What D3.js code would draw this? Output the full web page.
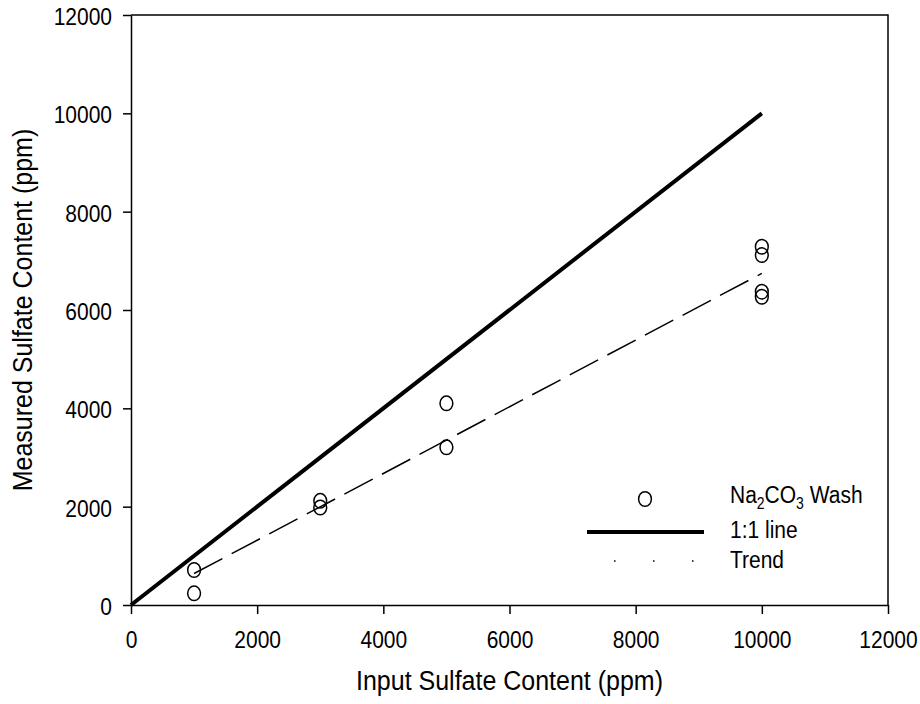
<!DOCTYPE html>
<html>
<head>
<meta charset="utf-8">
<script src="https://cdn.jsdelivr.net/npm/d3@7"></script>
<style>
  html, body { margin: 0; padding: 0; background: #fff; }
  text { font-family: Arial, "Liberation Sans", Helvetica, sans-serif; fill: #000; }
</style>
</head>
<body>
<svg id="chart" width="920" height="704"></svg>
<script>
// ---- data ----
const inputX = [1000, 1000, 3000, 3000, 5000, 5000, 10000, 10000, 10000, 10000];
const measuredY = [712, 238, 2119, 1983, 4102, 3207, 7287, 7118, 6372, 6270];
const oneToOneX = [0, 10000];
const oneToOneY = [0, 10000];
const trendX = [1000, 10000];
const trendY = [640, 6745];
const xTicks = [0, 2000, 4000, 6000, 8000, 10000, 12000];
const yTicks = [0, 2000, 4000, 6000, 8000, 10000, 12000];
const legendLabels = ["Wash", "1:1 line", "Trend"];

(function () {
const svg = d3.select("#chart");
const pL = 131, pR = 888, pT = 15, pB = 605;
const TS = 1.12; // vertical text stretch

const x = d3.scaleLinear().domain([0, 12000]).range([pL, pR]);
const y = d3.scaleLinear().domain([0, 12000]).range([pB, pT]);

// frame (top & right)
svg.append("path")
  .attr("d", `M${pL},${pT}H${pR}V${pB}`)
  .attr("fill", "none").attr("stroke", "#000").attr("stroke-width", 1.5);

// axes
const xAxis = svg.append("g").attr("transform", `translate(0,${pB})`)
  .call(d3.axisBottom(x).tickValues(xTicks).tickSize(9).tickSizeOuter(0).tickFormat(d3.format("d")));
const yAxis = svg.append("g").attr("transform", `translate(${pL},0)`)
  .call(d3.axisLeft(y).tickValues(yTicks).tickSize(8).tickSizeOuter(0).tickFormat(d3.format("d")));
[xAxis, yAxis].forEach(g => {
  g.select(".domain").attr("stroke-width", 1.5);
  g.selectAll(".tick line").attr("stroke-width", 1.5);
  g.attr("font-family", null).attr("font-size", null);
});
xAxis.selectAll(".tick text")
  .attr("y", null).attr("dy", null)
  .attr("text-anchor", "middle")
  .style("font-size", "21px")
  .attr("transform", `translate(0,43) scale(1,${TS})`);
yAxis.selectAll(".tick text")
  .attr("x", null).attr("dy", null)
  .attr("text-anchor", "end")
  .style("font-size", "21px")
  .attr("transform", `translate(-19,9.5) scale(1,${TS})`);

// axis titles
svg.append("text")
  .attr("text-anchor", "middle")
  .style("font-size", "25px")
  .attr("transform", `translate(${(pL + pR) / 2},690) scale(1,${TS})`)
  .text("Input Sulfate Content (ppm)");
svg.append("text")
  .attr("text-anchor", "middle")
  .style("font-size", "25px")
  .attr("transform", `translate(32,${(pT + pB) / 2}) rotate(-90) scale(1,${TS})`)
  .text("Measured Sulfate Content (ppm)");

// 1:1 line
const line = d3.line().x(d => x(d[0])).y(d => y(d[1]));
svg.append("path")
  .datum(oneToOneX.map((v, i) => [v, oneToOneY[i]]))
  .attr("d", line)
  .attr("fill", "none").attr("stroke", "#000").attr("stroke-width", 4);

// trend line
svg.append("path")
  .datum(trendX.map((v, i) => [v, trendY[i]]))
  .attr("d", line)
  .attr("fill", "none").attr("stroke", "#000").attr("stroke-width", 1.5)
  .attr("stroke-dasharray", "32,10.5");

// points
svg.append("g").selectAll("ellipse")
  .data(inputX.map((v, i) => [v, measuredY[i]]))
  .join("ellipse")
  .attr("cx", d => x(d[0])).attr("cy", d => y(d[1]))
  .attr("rx", 6.4).attr("ry", 7.3)
  .attr("fill", "none").attr("stroke", "#000").attr("stroke-width", 1.5);

// legend
const lg = svg.append("g");
lg.append("ellipse").attr("cx", 645).attr("cy", 499).attr("rx", 6.4).attr("ry", 7.3)
  .attr("fill", "none").attr("stroke", "#000").attr("stroke-width", 1.5);
lg.append("line").attr("x1", 587).attr("x2", 704).attr("y1", 532).attr("y2", 532)
  .attr("stroke", "#000").attr("stroke-width", 4);
lg.append("line").attr("x1", 614).attr("x2", 696).attr("y1", 561).attr("y2", 561)
  .attr("stroke", "#000").attr("stroke-width", 1.5).attr("stroke-dasharray", "1.5,37.5");

const t1 = lg.append("text").style("font-size", "21px")
  .attr("transform", `translate(730,503) scale(1,${TS})`);
t1.append("tspan").text("Na");
t1.append("tspan").text("2").style("font-size", "14px").attr("dy", 5);
t1.append("tspan").text("CO").attr("dy", -5);
t1.append("tspan").text("3").style("font-size", "14px").attr("dy", 5);
t1.append("tspan").text(" " + legendLabels[0]).attr("dy", -5);
lg.append("text").style("font-size", "21px")
  .attr("transform", `translate(730,538) scale(1,${TS})`).text(legendLabels[1]);
lg.append("text").style("font-size", "21px")
  .attr("transform", `translate(730,568) scale(1,${TS})`).text(legendLabels[2]);
})();
</script>
</body>
</html>
